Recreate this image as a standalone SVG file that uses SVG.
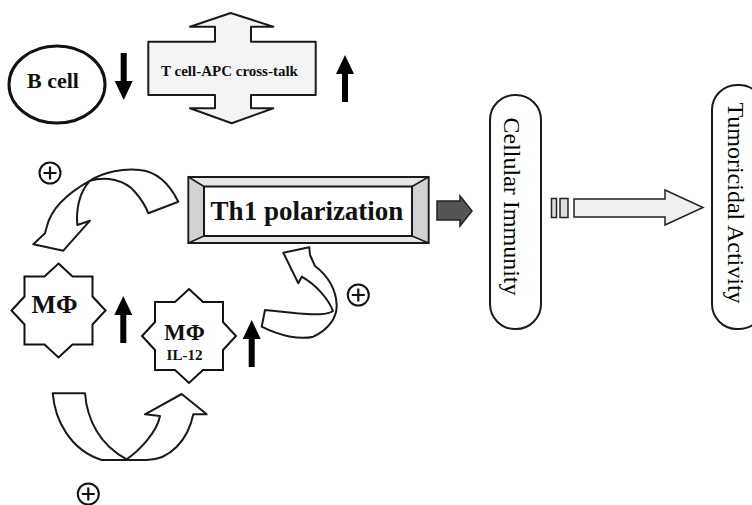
<svg xmlns="http://www.w3.org/2000/svg" width="752" height="505" viewBox="0 0 752 505">
<style>
.ln{stroke:#1a1a1a;stroke-width:2;stroke-linejoin:round}
.cur{fill:#fff;stroke:#1a1a1a;stroke-width:2;stroke-linejoin:round}
.b{font-family:"Liberation Serif","Times New Roman",serif;font-weight:bold;fill:#111}
.r{font-family:"Liberation Serif","Times New Roman",serif;fill:#000}
.ind{fill:#000}
.plus{fill:#fff;stroke:#111;stroke-width:2}
</style>
<defs>
<polygon id="star" points="0,-47 14,-34 34,-34 34,-14 47,0 34,14 34,34 14,34 0,47 -14,34 -34,34 -34,14 -47,0 -34,-14 -34,-34 -14,-34"/>
<polygon id="up" points="0,-24 9,-5 3,-5 3,23 -3,23 -3,-5 -9,-5"/>
<g id="pl"><circle r="10.5" class="plus"/><path d="M-6.5,0H6.5M0,-6.5V6.5" stroke="#111" stroke-width="2.2"/></g>
</defs>
<rect width="752" height="505" fill="#fff"/>

<g id="bcell">
<ellipse cx="57" cy="84.5" rx="48" ry="38.5" fill="#fff" stroke="#111" stroke-width="3"/>
<text x="53" y="87.5" class="b" font-size="22" text-anchor="middle">B cell</text>
</g>

<g id="crosstalk">
<polygon class="ln" fill="#f4f4f4" points="230.7,13 273.3,26.7 251,26.7 251,41.7 315.7,41.7 315.7,95 251,95 251,108.3 273.3,108.3 231.7,123.3 190,108.3 215,108.3 215,95 148.3,95 148.3,41.7 215,41.7 215,26.7 190,26.7"/>
<text x="229.5" y="76" class="b" font-size="15" text-anchor="middle">T cell-APC cross-talk</text>
</g>

<g id="th1">
<rect x="188.5" y="177" width="240" height="66" fill="#e6e6e6" stroke="#1a1a1a" stroke-width="2"/>
<polygon points="188.5,177 204,186.5 204,236 188.5,243" fill="#d2d2d2" stroke="#1a1a1a" stroke-width="1.5"/>
<polygon points="428.5,177 412,186.5 412,236 428.5,243" fill="#d2d2d2" stroke="#1a1a1a" stroke-width="1.5"/>
<rect x="204" y="186.5" width="208" height="49.5" fill="#fff" stroke="#1a1a1a" stroke-width="2"/>
<text x="307" y="220" class="b" font-size="27" text-anchor="middle">Th1 polarization</text>
</g>

<g id="mphi1">
<use href="#star" x="58.5" y="310.5" fill="#fff" stroke="#111" stroke-width="2"/>
<text x="54.5" y="313" class="b" font-size="26" text-anchor="middle">MΦ</text>
</g>

<g id="mphi2">
<use href="#star" x="189" y="336" fill="#fff" stroke="#111" stroke-width="2"/>
<text x="184.5" y="340" class="b" font-size="23" text-anchor="middle">MΦ</text>
<text x="184.5" y="360" class="b" font-size="15" text-anchor="middle">IL-12</text>
</g>

<g id="cellular">
<rect x="490" y="95" width="51" height="234" rx="25" fill="#fff" stroke="#1a1a1a" stroke-width="2"/>
<text transform="translate(503.5,206.5) rotate(90)" class="r" font-size="24" text-anchor="middle">Cellular Immunity</text>
</g>

<g id="tumoricidal">
<rect x="712" y="85" width="52" height="244" rx="25" fill="#fff" stroke="#1a1a1a" stroke-width="2"/>
<text transform="translate(728,203) rotate(90)" class="r" font-size="24" text-anchor="middle">Tumoricidal Activity</text>
</g>

<g id="connectors">
<path class="cur" d="M178.3,201.7 C172,189 160,172 140,170 C124,168 104,172 90,180.7 C70,192 52,206 47,226 L45,233.3 L33.3,244.3 L63.3,250.7 L90,220.7 L77.3,225 C76,210 79,192 90,180.7 C106,176 125,180 135,192 C142,200 146,207 148.3,213.3 Z"/>
<path class="cur" d="M265,310 L261.7,326.7 C280,336 300,340 313.3,336.7 C328,330 337,318 336.7,305 C336,290 328,276 315,266 L310,255 L309.3,247.3 L283.3,252.7 L298.3,283.3 L301.7,276.7 C316,285 328,298 333,311 C326,316 310,314 296.7,313.3 Z"/>
<path class="cur" d="M52.7,393.3 L85,393.3 C87,420 100,445 126.7,459.3 C140,450 157,432 160,416 L145,414.3 L181.7,394 L206.7,414.3 L193.3,414.3 C188,440 170,460 146.7,460 L101.7,460 C70,450 55,420 52.7,393.3 Z"/>
<polygon points="437,201 460,201 460,196 472,211 460,226 460,220 437,220" fill="#555" stroke="#222" stroke-width="1.5"/>
<rect x="551.5" y="198.5" width="5" height="19" fill="#ddd" stroke="#222" stroke-width="1.5"/>
<rect x="560" y="198.5" width="8" height="19" fill="#ddd" stroke="#222" stroke-width="1.5"/>
<polygon points="574,199 665,199 665,190 703,207.5 665,225 665,217 574,217" fill="#efefef" stroke="#222" stroke-width="1.5"/>
</g>

<g id="indicators">
<use href="#up" class="ind" transform="translate(123.7,76) rotate(180)"/>
<use href="#up" class="ind" transform="translate(345,79)"/>
<use href="#up" class="ind" transform="translate(123.3,320)"/>
<use href="#up" class="ind" transform="translate(251.7,344)"/>
</g>

<g id="plus-signs">
<use href="#pl" x="50" y="173"/>
<use href="#pl" x="358.3" y="295"/>
<use href="#pl" x="88.3" y="494"/>
</g>
</svg>
